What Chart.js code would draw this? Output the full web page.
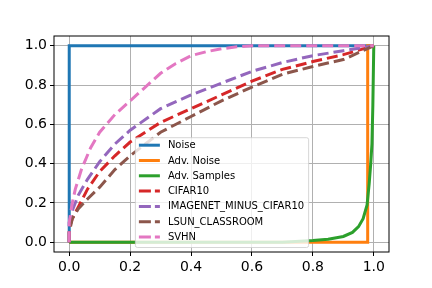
<!DOCTYPE html>
<html>
<head>
<meta charset="utf-8">
<script src="https://cdn.jsdelivr.net/npm/chart.js@4.4.0/dist/chart.umd.min.js"></script>
<style>
  body { margin: 0; background: #fff; }
  canvas { display: block; }
</style>
</head>
<body>
<canvas id="roc" width="432" height="288"></canvas>
<script>
// valores (fpr, tpr)
const tickVals = [0, 0.2, 0.4, 0.6, 0.8, 1.0];

const noiseX = [0, 0, 1];
const noiseY = [0, 1, 1];

const advNoiseX = [0, 0.98, 0.98, 1];
const advNoiseY = [0, 0, 1, 1];

const advSamplesX = [0, 0.7, 0.8, 0.85, 0.9, 0.93, 0.95, 0.965, 0.978, 0.985, 0.99, 0.994, 0.997, 1];
const advSamplesY = [0, 0, 0.008, 0.015, 0.029, 0.05, 0.079, 0.12, 0.19, 0.3, 0.4, 0.5, 0.7, 1];

const rocX = [0, 0, 0.01, 0.03, 0.06, 0.1, 0.15, 0.2, 0.3, 0.4, 0.5, 0.6, 0.7, 0.8, 0.9, 1];
const cifarY = [0, 0.07, 0.12, 0.18, 0.27, 0.36, 0.44, 0.51, 0.61, 0.68, 0.75, 0.82, 0.88, 0.92, 0.955, 1];
const imagenetY = [0, 0.1, 0.16, 0.24, 0.32, 0.41, 0.5, 0.57, 0.68, 0.75, 0.81, 0.87, 0.915, 0.95, 0.975, 1];
const lsunY = [0, 0.05, 0.12, 0.17, 0.22, 0.28, 0.37, 0.44, 0.56, 0.64, 0.72, 0.79, 0.855, 0.895, 0.93, 1];

const svhnX = [0, 0, 0.01, 0.02, 0.04, 0.07, 0.1, 0.15, 0.2, 0.25, 0.3, 0.35, 0.4, 0.45, 0.5, 0.55, 0.6, 1];
const svhnY = [0, 0.1, 0.2, 0.27, 0.37, 0.48, 0.56, 0.65, 0.72, 0.79, 0.86, 0.91, 0.95, 0.97, 0.985, 0.995, 1, 1];

const labels = ['Noise', 'Adv. Noise', 'Adv. Samples', 'CIFAR10', 'IMAGENET_MINUS_CIFAR10', 'LSUN_CLASSROOM', 'SVHN'];
const colors = ['#1f77b4', '#ff7f0e', '#2ca02c', '#d62728', '#9467bd', '#8c564b', '#e377c2'];
const series = [
    [noiseX, noiseY], [advNoiseX, advNoiseY], [advSamplesX, advSamplesY],
    [rocX, cifarY], [rocX, imagenetY], [rocX, lsunY], [svhnX, svhnY]
];

function pontos(xs, ys) {
    return xs.map((x, i) => ({ x: x, y: ys[i] }));
}

const datasets = series.map((s, i) => ({
    label: labels[i],
    data: pontos(s[0], s[1]),
    borderColor: colors[i],
    backgroundColor: colors[i],
    borderWidth: 3,
    borderDash: i >= 3 ? [11, 5] : [],
    pointRadius: 0,
    tension: 0,
    fill: false,
    order: series.length - i // os últimos ficam por cima, como no matplotlib
}));

// legenda desenhada dentro da área do gráfico (lower center)
const legendaPlugin = {
    id: 'legendaDentro',
    afterDraw(chart) {
        const ctx = chart.ctx;
        const area = chart.chartArea;
        ctx.save();
        ctx.font = '10px "DejaVu Sans"';
        let maxW = 0;
        labels.forEach(l => { maxW = Math.max(maxW, ctx.measureText(l).width); });
        const w = 5 + 20 + 8 + maxW + 4;
        const rowH = 15.3;
        const h = 8 + rowH * (labels.length - 1) + 10;
        const x0 = (area.left + area.right) / 2 - w / 2;
        const y0 = area.bottom - 5 - h;
        ctx.fillStyle = 'rgba(255,255,255,0.8)';
        ctx.strokeStyle = 'rgba(204,204,204,0.8)';
        ctx.lineWidth = 1;
        ctx.beginPath();
        ctx.roundRect(x0 + 0.5, y0 + 0.5, w, h, 2);
        ctx.fill();
        ctx.stroke();
        labels.forEach((l, i) => {
            const cy = y0 + 8 + i * rowH;
            ctx.strokeStyle = colors[i];
            ctx.lineWidth = 3;
            ctx.setLineDash(i >= 3 ? [12, 4] : []);
            ctx.beginPath();
            ctx.moveTo(x0 + 4, cy);
            ctx.lineTo(x0 + 25, cy);
            ctx.stroke();
            ctx.setLineDash([]);
            ctx.fillStyle = '#000';
            ctx.textBaseline = 'middle';
            ctx.fillText(l, x0 + 33, cy + 0.5);
        });
        ctx.restore();
    }
};

// moldura preta em volta dos eixos
const molduraPlugin = {
    id: 'moldura',
    afterDatasetsDraw(chart) {
        const a = chart.chartArea;
        const ctx = chart.ctx;
        ctx.save();
        ctx.strokeStyle = '#000';
        ctx.lineWidth = 1;
        ctx.strokeRect(a.left, a.top, a.right - a.left, a.bottom - a.top);
        ctx.restore();
    }
};

Chart.defaults.font.family = '"DejaVu Sans"';
Chart.defaults.color = '#000';

function eixo(extra) {
    return Object.assign({
        type: 'linear',
        min: -0.05,
        max: 1.05,
        afterBuildTicks: (s) => { s.ticks = tickVals.map(v => ({ value: v })); },
        grid: { color: '#b0b0b0', lineWidth: 1, tickLength: 4, tickColor: '#000' },
        border: { display: false },
        ticks: {
            font: { size: 14 },
            padding: 3,
            maxRotation: 0,
            callback: (v) => Number(v).toFixed(1)
        }
    }, extra);
}

new Chart(document.getElementById('roc').getContext('2d'), {
    type: 'line',
    data: { datasets: datasets },
    options: {
        responsive: false,
        animation: false,
        layout: { padding: { left: 0, right: 43, top: 36, bottom: 0 } },
        plugins: { legend: { display: false }, tooltip: { enabled: false } },
        scales: {
            x: eixo({ position: 'bottom', afterFit: (s) => { s.height = 36; } }),
            y: eixo({ position: 'left', afterFit: (s) => { s.width = 54; } })
        }
    },
    plugins: [molduraPlugin, legendaPlugin]
});
</script>
</body>
</html>
